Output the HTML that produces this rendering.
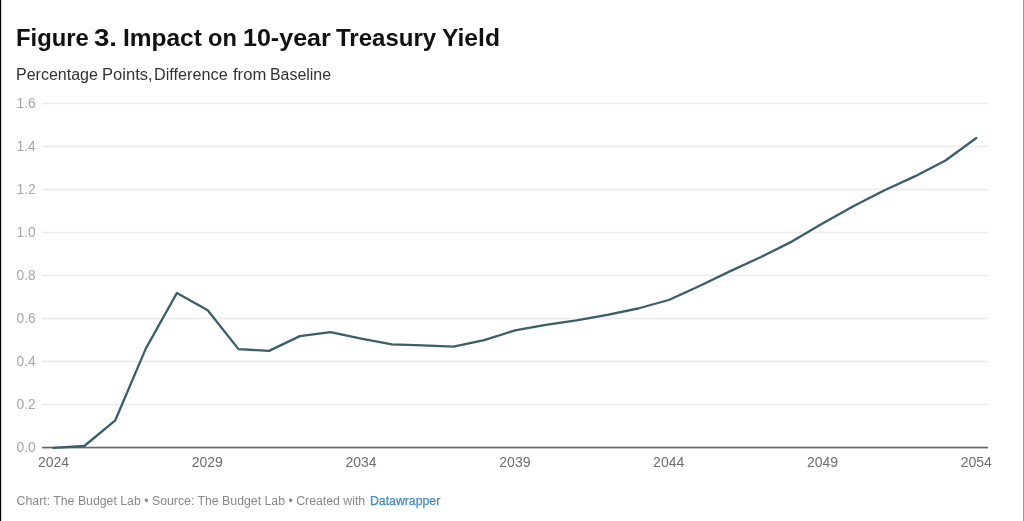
<!DOCTYPE html>
<html><head><meta charset="utf-8"><title>Figure 3</title>
<style>
html,body{margin:0;padding:0;background:#fff;}
body{width:1024px;height:521px;position:relative;overflow:hidden;font-family:"Liberation Sans",sans-serif;}
.bl{position:absolute;left:0;top:0;width:3px;height:521px;background:linear-gradient(90deg,#000 0,#000 1px,#dcdcdc 1px,#dcdcdc 2px,#fbfbfb 2px,#fbfbfb 3px);}
.br{position:absolute;right:0;top:0;width:1px;height:521px;background:#9a9a9a;}
.w{position:absolute;top:0;transform-origin:0 0;white-space:pre;display:block}
h1{position:absolute;left:0;top:22.6px;width:1024px;height:30px;margin:0;font-size:24px;font-weight:bold;color:#111;line-height:30px}
.sub{position:absolute;left:0;top:65px;width:1024px;height:20px;font-size:16px;color:#333;line-height:20px;}
.foot{position:absolute;left:16.6px;top:493px;font-size:12.3px;color:#888;white-space:nowrap;line-height:16px;}
.foot a{color:#448bc2;text-decoration:none;margin-left:1.3px;-webkit-text-stroke:0.25px #448bc2}
svg{position:absolute;left:0;top:0}
svg text{font-family:"Liberation Sans",sans-serif;}
</style></head><body>
<div class="bl"></div><div class="br"></div>
<h1><span class="w" style="left:15.63px;transform:scaleX(0.9913)">Figure </span><span class="w" style="left:94.27px;transform:scaleX(1.1513)">3. </span><span class="w" style="left:122.88px;transform:scaleX(1.0197)">Impact </span><span class="w" style="left:207.72px;transform:scaleX(0.9833)">on </span><span class="w" style="left:243.15px;transform:scaleX(1.0439)">10-year </span><span class="w" style="left:335.83px;transform:scaleX(1.0009)">Treasury </span><span class="w" style="left:441.95px;transform:scaleX(1.0265)">Yield</span></h1>
<div class="sub"><span class="w" style="left:16.10px;transform:scaleX(1.0006)">Percentage </span><span class="w" style="left:101.65px;transform:scaleX(1.0347)">Points, </span><span class="w" style="left:154.15px;transform:scaleX(1.0141)">Difference </span><span class="w" style="left:233.34px;transform:scaleX(1.0398)">from </span><span class="w" style="left:270.40px;transform:scaleX(0.9939)">Baseline</span></div>
<svg width="1024" height="521" viewBox="0 0 1024 521">
<defs><filter id="b" x="-5%" y="-5%" width="110%" height="110%"><feGaussianBlur stdDeviation="0.4"/></filter></defs>
<g shape-rendering="crispEdges">
<rect x="42" y="102" width="945.5" height="3" fill="#f9f9f9"/><rect x="42" y="103" width="945.5" height="1" fill="#ececec"/>
<rect x="42" y="145" width="945.5" height="3" fill="#f9f9f9"/><rect x="42" y="146" width="945.5" height="1" fill="#ececec"/>
<rect x="42" y="188" width="945.5" height="3" fill="#f9f9f9"/><rect x="42" y="189" width="945.5" height="1" fill="#ececec"/>
<rect x="42" y="231" width="945.5" height="3" fill="#f9f9f9"/><rect x="42" y="232" width="945.5" height="1" fill="#ececec"/>
<rect x="42" y="274" width="945.5" height="3" fill="#f9f9f9"/><rect x="42" y="275" width="945.5" height="1" fill="#ececec"/>
<rect x="42" y="317" width="945.5" height="3" fill="#f9f9f9"/><rect x="42" y="318" width="945.5" height="1" fill="#ececec"/>
<rect x="42" y="360" width="945.5" height="3" fill="#f9f9f9"/><rect x="42" y="361" width="945.5" height="1" fill="#ececec"/>
<rect x="42" y="403" width="945.5" height="3" fill="#f9f9f9"/><rect x="42" y="404" width="945.5" height="1" fill="#ececec"/>
<rect x="41.5" y="446" width="946" height="1" fill="#d2d2d2"/><rect x="41.5" y="447" width="946" height="1" fill="#686868"/><rect x="41.5" y="448" width="946" height="1" fill="#c2c2c2"/>
</g>
<g font-size="13.8" fill="#a6a6a6">
<text x="16.6" y="108.4">1.6</text>
<text x="16.6" y="151.4">1.4</text>
<text x="16.6" y="194.4">1.2</text>
<text x="16.6" y="237.4">1.0</text>
<text x="16.6" y="280.4">0.8</text>
<text x="16.6" y="323.4">0.6</text>
<text x="16.6" y="366.4">0.4</text>
<text x="16.6" y="409.4">0.2</text>
<text x="16.6" y="452.4">0.0</text>
</g>
<g font-size="14" fill="#6e6e6e" text-anchor="middle">
<text x="53.5" y="467">2024</text>
<text x="207.3" y="467">2029</text>
<text x="361.1" y="467">2034</text>
<text x="514.9" y="467">2039</text>
<text x="668.7" y="467">2044</text>
<text x="822.5" y="467">2049</text>
<text x="976.3" y="467">2054</text>
</g>
<path d="M53.5,447.9 L84.3,446.0 L115.3,420.3 L145.8,348.6 L176.9,293.0 L207.7,310.3 L238.5,349.1 L269.1,350.9 L299.8,336.1 L330.5,332.2 L361.2,338.7 L392.0,344.3 L422.7,345.4 L453.5,346.7 L484.2,340.2 L515.0,330.4 L545.7,324.9 L576.5,320.3 L607.3,314.8 L638.0,308.5 L668.8,300.0 L699.5,286.0 L730.3,271.1 L761.0,257.0 L791.8,241.6 L822.5,223.4 L853.3,206.2 L884.0,190.5 L914.8,176.4 L945.5,160.5 L976.3,138.0" fill="none" stroke="#3a5e6a" stroke-width="2.3" stroke-linejoin="round" stroke-linecap="round" filter="url(#b)"/>
</svg>
<div class="foot">Chart: The Budget Lab • Source: The Budget Lab • Created with <a>Datawrapper</a></div>
</body></html>
